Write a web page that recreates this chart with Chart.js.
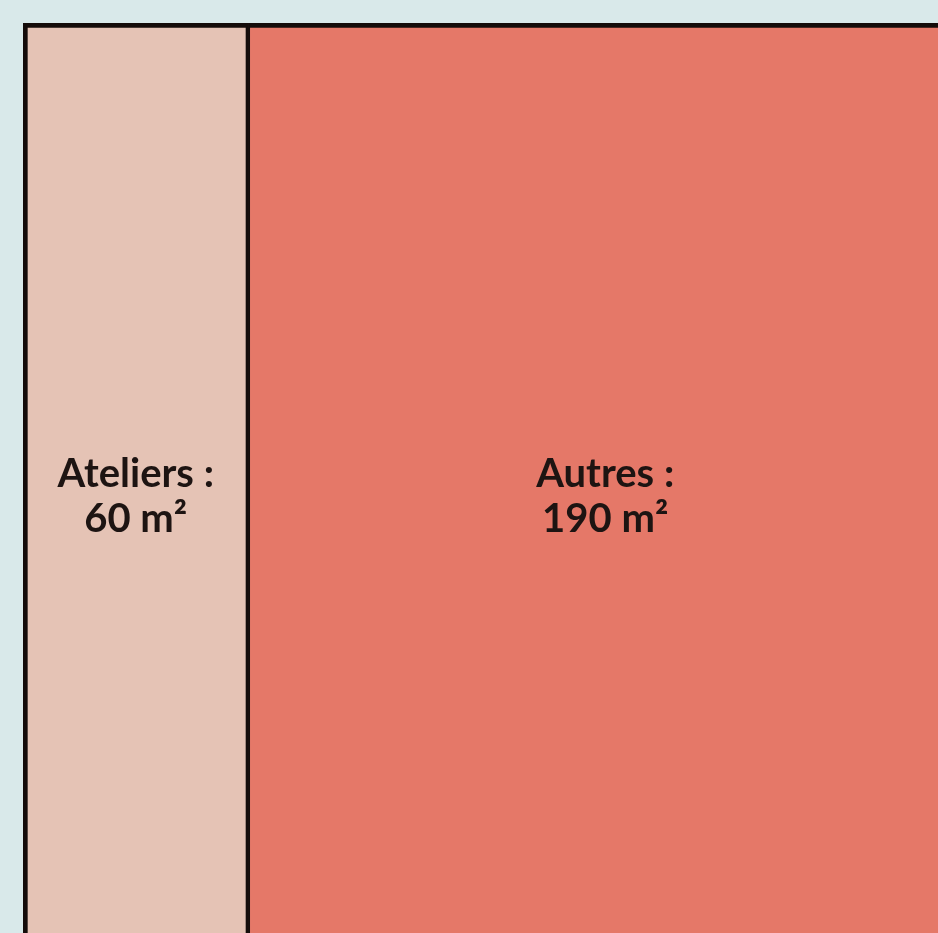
<!DOCTYPE html>
<html>
<head>
<meta charset="utf-8">
<script src="https://cdn.jsdelivr.net/npm/chart.js@4"></script>
<style>
html,body{margin:0;padding:0;background:#d9e9ea;overflow:hidden;width:938px;height:933px;}
#wrap{position:absolute;left:0;top:0;width:1000px;height:1000px;}
</style>
</head>
<body>
<div id="wrap"><canvas id="c" width="1000" height="1000"></canvas></div>
<script>
const categories = ["Ateliers", "Autres"];
const values = [60, 190];
const unit = "m²";
const colors = ["#e5c3b5", "#e57868"];

const datasets = categories.map((name, i) => ({
  label: name,
  data: [values[i]],
  backgroundColor: colors[i],
  borderColor: "#140c0a",
  borderWidth: i === 0 ? {left:5, top:5, bottom:5, right:3} : {left:2, top:5, bottom:5, right:5},
  borderSkipped: false,
  barPercentage: 1,
  categoryPercentage: 1
}));

const labelPlugin = {
  id: "labels",
  afterDatasetsDraw(chart) {
    const ctx = chart.ctx;
    ctx.save();
    ctx.font = "bold 40px Lato, 'Open Sans', sans-serif";
    ctx.fillStyle = "#1d1412";
    ctx.textAlign = "center";
    ctx.textBaseline = "alphabetic";
    chart.data.datasets.forEach((ds, i) => {
      const el = chart.getDatasetMeta(i).data[0];
      const cx = (el.base + el.x) / 2;
      const cy = el.y;
      ctx.fillText(ds.label + " :", cx, cy - 10);
      ctx.fillText(ds.data[0] + " " + unit, cx, cy + 35);
    });
    ctx.restore();
  }
};

new Chart(document.getElementById("c"), {
  type: "bar",
  data: { labels: [""], datasets },
  options: {
    indexAxis: "y",
    responsive: false,
    animation: false,
    layout: { padding: { left: 23, top: 23, right: 38, bottom: 29 } },
    scales: {
      x: { stacked: true, min: 0, max: values.reduce((a,b)=>a+b,0), display: false },
      y: { stacked: true, display: false }
    },
    plugins: { legend: { display: false }, tooltip: { enabled: false } }
  },
  plugins: [labelPlugin]
});
</script>
</body>
</html>
